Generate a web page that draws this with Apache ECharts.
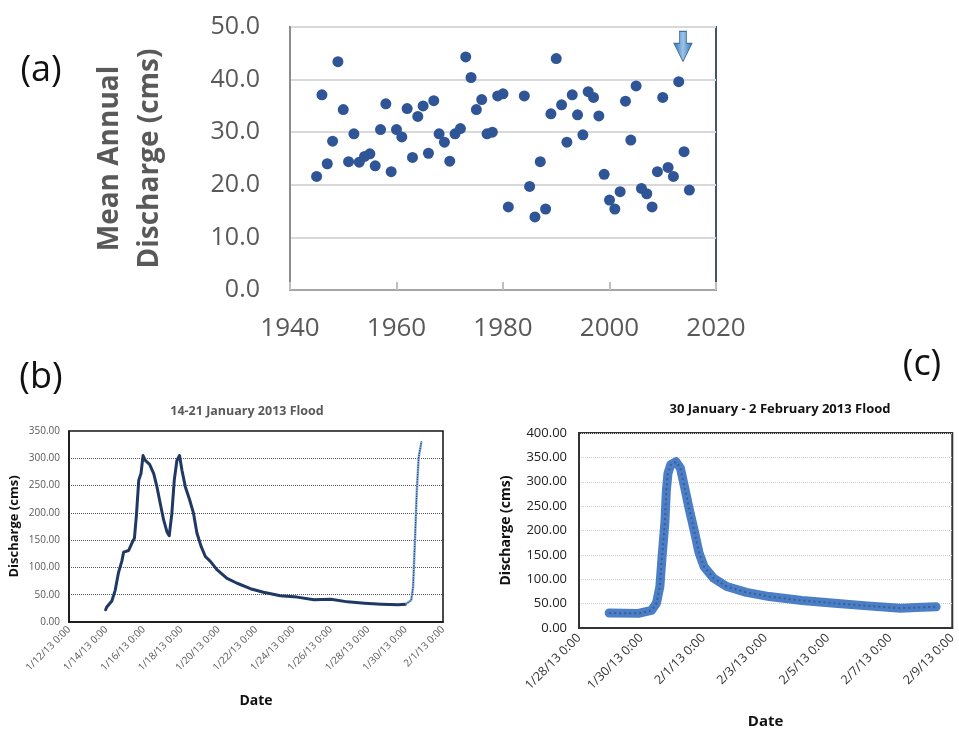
<!DOCTYPE html>
<html>
<head>
<meta charset="utf-8">
<script src="https://cdn.jsdelivr.net/npm/echarts@6/dist/echarts.min.js"></script>
<style>html,body{margin:0;padding:0;background:#fff}#c{width:959px;height:731px}</style>
</head>
<body>
<div id="c"></div>
<script>
// ---- Panel (a): mean annual discharge ----
const aYears = [1945,1946,1947,1948,1949,1950,1951,1952,1953,1954,1955,1956,1957,1958,1959,1960,1961,1962,1963,1964,1965,1966,1967,1968,1969,1970,1971,1972,1973,1974,1975,1976,1977,1978,1979,1980,1981,
  1984,1985,1986,1987,1988,1989,1990,1991,1992,1993,1994,1995,1996,1997,1998,1999,2000,2001,2002,2003,2004,2005,2006,2007,2008,2009,2010,2011,2012,2013,2014,2015];
const aValues = [21.6,37.1,24.0,28.3,43.4,34.3,24.4,29.7,24.3,25.4,25.9,23.6,30.5,35.4,22.5,30.5,29.1,34.5,25.2,33.0,35.0,26.0,36.0,29.7,28.1,24.5,29.7,30.7,44.3,40.4,34.3,36.2,29.7,30.0,36.9,37.3,15.8,
  36.9,19.7,13.9,24.4,15.4,33.5,44.0,35.2,28.1,37.1,33.3,29.5,37.7,36.6,33.1,22.0,17.1,15.4,18.7,35.9,28.5,38.8,19.3,18.3,15.8,22.5,36.6,23.3,21.6,39.6,26.3,19.0];
const aArrowAt = [2013.8, 46.3];

// ---- Panel (b): 14-21 January 2013 flood (days after 1/12/13 0:00) ----
const bDays = [1.96,2.02,2.29,2.47,2.65,2.83,2.92,3.19,3.37,3.5,3.6,3.73,3.85,3.96,4.08,4.31,4.53,4.7,4.88,5.06,5.24,5.36,5.5,5.63,5.77,5.91,6.04,6.22,6.45,6.66,6.84,7.06,7.29,7.56,7.91,8.45,8.99,9.7,10.4,11.3,12.2,13.1,14.0,14.9,15.8,16.7,17.6,18.0];
const bFlow = [22.4,27.4,38.5,58,91,112,128,131,145,154,193,260,272,305,296,289,272,248,217,187,165,158,199,260,296,305,278,248,224,199,163,139,120,111,96,80,71,61,54.6,48,45.6,40.7,41.8,36.9,34.5,32.7,31.5,32.7];
const bRiseDays = [18.0,18.3,18.4,18.5,18.6,18.7,18.85];
const bRiseFlow = [32.7,40,64,149,241,302,331];
const bTickLabels = ['1/12/13 0:00','1/14/13 0:00','1/16/13 0:00','1/18/13 0:00','1/20/13 0:00','1/22/13 0:00','1/24/13 0:00','1/26/13 0:00','1/28/13 0:00','1/30/13 0:00','2/1/13 0:00'];

// ---- Panel (c): 30 January - 2 February 2013 flood (days after 1/28/13 0:00) ----
const cDays = [0.97,1.91,2.33,2.49,2.6,2.67,2.76,2.81,2.86,2.95,3.12,3.26,3.39,3.55,3.7,3.86,4.02,4.33,4.75,5.38,6.12,7.17,8.22,9.27,10.33,10.84,11.48];
const cFlow = [30.7,30,36,51,85,146,215,283,317,335,341,328,290,242,201,154,126,102,85,73,64.5,56.3,50.8,45.4,40.6,42,43.4];
const cTickLabels = ['1/28/13 0:00','1/30/13 0:00','2/1/13 0:00','2/3/13 0:00','2/5/13 0:00','2/7/13 0:00','2/9/13 0:00'];

const zip = (x, y) => x.map((v, i) => [v, y[i]]);
const FF = '"Open Sans", "Noto Sans", sans-serif';

const chart = echarts.init(document.getElementById('c'), null, {renderer: 'canvas'});
chart.setOption({
  animation: false,
  backgroundColor: '#fff',
  textStyle: {fontFamily: FF},
  title: [
    {text: '(a)', left: 36, top: 48, textAlign: 'center', textStyle: {fontSize: 36, fontWeight: 'normal', color: '#111', fontFamily: FF}},
    {text: '(b)', left: 36, top: 355, textAlign: 'center', textStyle: {fontSize: 36, fontWeight: 'normal', color: '#111', fontFamily: FF}},
    {text: '(c)', left: 917, top: 342, textAlign: 'center', textStyle: {fontSize: 36, fontWeight: 'normal', color: '#111', fontFamily: FF}},
    {text: '14-21 January 2013 Flood', left: 242, top: 400, textAlign: 'center', textStyle: {fontSize: 12.5, fontWeight: 'bold', color: '#595959', fontFamily: FF}},
    {text: '30 January - 2 February 2013 Flood', left: 775, top: 398, textAlign: 'center', textStyle: {fontSize: 13, fontWeight: 'bold', color: '#111', fontFamily: FF}}
  ],
  grid: [
    {left: 290, top: 27, width: 426, height: 263, show: true, borderColor: '#44546A', borderWidth: 2},
    {left: 69, top: 431, width: 374, height: 191, show: true, borderColor: '#111', borderWidth: 1.5},
    {left: 579, top: 433, width: 380, height: 195, show: true, borderColor: '#333', borderWidth: 2}
  ],
  xAxis: [
    {gridIndex: 0, type: 'value', min: 1940, max: 2020, interval: 20,
      axisLine: {show: true, onZero: false, lineStyle: {color: '#A6A6A6', width: 2}},
      axisTick: {show: true, inside: true, length: 8, lineStyle: {color: '#BFBFBF', width: 2}},
      axisLabel: {fontSize: 26, color: '#595959', margin: 26, fontFamily: FF, formatter: v => String(v)},
      splitLine: {show: false}},
    {gridIndex: 1, type: 'value', min: 0, max: 20, interval: 2,
      name: 'Date', nameLocation: 'middle', nameGap: 72,
      nameTextStyle: {fontSize: 14, fontWeight: 'bold', color: '#111', fontFamily: FF},
      axisLine: {show: true, onZero: false, lineStyle: {color: '#111', width: 1.5}},
      axisTick: {show: false},
      axisLabel: {fontSize: 10, color: '#595959', rotate: 45, margin: 6, fontFamily: FF,
        formatter: v => bTickLabels[Math.round(v / 2)] || ''},
      splitLine: {show: false}},
    {gridIndex: 2, type: 'value', min: 0, max: 12, interval: 2,
      name: 'Date', nameLocation: 'middle', nameGap: 86,
      nameTextStyle: {fontSize: 15, fontWeight: 'bold', color: '#111', fontFamily: FF},
      axisLine: {show: true, onZero: false, lineStyle: {color: '#333', width: 2}},
      axisTick: {show: false},
      axisLabel: {fontSize: 12.5, color: '#333', rotate: 45, margin: 8, fontFamily: FF,
        formatter: v => cTickLabels[Math.round(v / 2)] || ''},
      splitLine: {show: false}}
  ],
  yAxis: [
    {gridIndex: 0, type: 'value', min: 0, max: 50, interval: 10,
      name: 'Mean Annual\nDischarge (cms)', nameLocation: 'middle', nameGap: 120, nameRotate: 90,
      nameTextStyle: {fontSize: 28, fontWeight: 'bold', color: '#595959', lineHeight: 40, fontFamily: FF},
      axisLine: {show: true, lineStyle: {color: '#8C8C8C', width: 2}},
      axisTick: {show: false},
      axisLabel: {fontSize: 25, color: '#595959', margin: 30, fontFamily: FF, formatter: v => v.toFixed(1)},
      splitLine: {show: true, lineStyle: {color: '#D9D9D9', width: 2}}},
    {gridIndex: 1, type: 'value', min: 0, max: 350, interval: 50,
      name: 'Discharge (cms)', nameLocation: 'middle', nameGap: 48, nameRotate: 90,
      nameTextStyle: {fontSize: 13, fontWeight: 'bold', color: '#111', fontFamily: FF},
      axisLine: {show: true, lineStyle: {color: '#111', width: 1.5}},
      axisTick: {show: false},
      axisLabel: {fontSize: 10, color: '#595959', margin: 9, fontFamily: FF, formatter: v => v.toFixed(2)},
      splitLine: {show: true, lineStyle: {color: '#555', width: 1, type: 'dotted'}}},
    {gridIndex: 2, type: 'value', min: 0, max: 400, interval: 50,
      name: 'Discharge (cms)', nameLocation: 'middle', nameGap: 66, nameRotate: 90,
      nameTextStyle: {fontSize: 14, fontWeight: 'bold', color: '#111', fontFamily: FF},
      axisLine: {show: true, lineStyle: {color: '#333', width: 2}},
      axisTick: {show: false},
      axisLabel: {fontSize: 13, color: '#222', margin: 12, fontFamily: FF, formatter: v => v.toFixed(2)},
      splitLine: {show: true, lineStyle: {color: '#D0D0D0', width: 1, type: 'dotted'}}}
  ],
  series: [
    {type: 'scatter', xAxisIndex: 0, yAxisIndex: 0, data: zip(aYears, aValues),
      symbolSize: 11, itemStyle: {color: '#2F5597', opacity: 1},
      markPoint: {silent: true, label: {show: false},
        data: [{coord: aArrowAt,
          symbol: 'path://M5.5,0 L12.5,0 L12.5,12 L18,12 L9,30 L0,12 L5.5,12 Z',
          symbolSize: [18, 30],
          itemStyle: {color: new echarts.graphic.LinearGradient(0, 0, 1, 0, [
            {offset: 0, color: '#2E75B6'}, {offset: 0.5, color: '#9DC3E6'}, {offset: 1, color: '#2E75B6'}]),
            borderColor: '#41719C', borderWidth: 1}}]}},
    {type: 'line', xAxisIndex: 1, yAxisIndex: 1, data: zip(bDays, bFlow),
      showSymbol: false, lineStyle: {color: '#1F3864', width: 3, join: 'round', cap: 'round'}},
    {type: 'line', xAxisIndex: 1, yAxisIndex: 1, data: zip(bRiseDays, bRiseFlow),
      showSymbol: false, lineStyle: {color: '#8DB4E2', width: 2.5}},
    {type: 'line', xAxisIndex: 1, yAxisIndex: 1, data: zip(bRiseDays, bRiseFlow),
      showSymbol: false, lineStyle: {color: '#1F3864', width: 1.2, type: 'dotted'}},
    {type: 'line', xAxisIndex: 2, yAxisIndex: 2, data: zip(cDays, cFlow),
      showSymbol: false,
      lineStyle: {color: '#4C7EC6', width: 9, cap: 'round', join: 'round'}},
    {type: 'line', xAxisIndex: 2, yAxisIndex: 2, data: zip(cDays, cFlow),
      showSymbol: false,
      lineStyle: {color: 'rgba(31,56,100,0.45)', width: 2, type: [2, 3]}}
  ]
});
</script>
</body>
</html>
